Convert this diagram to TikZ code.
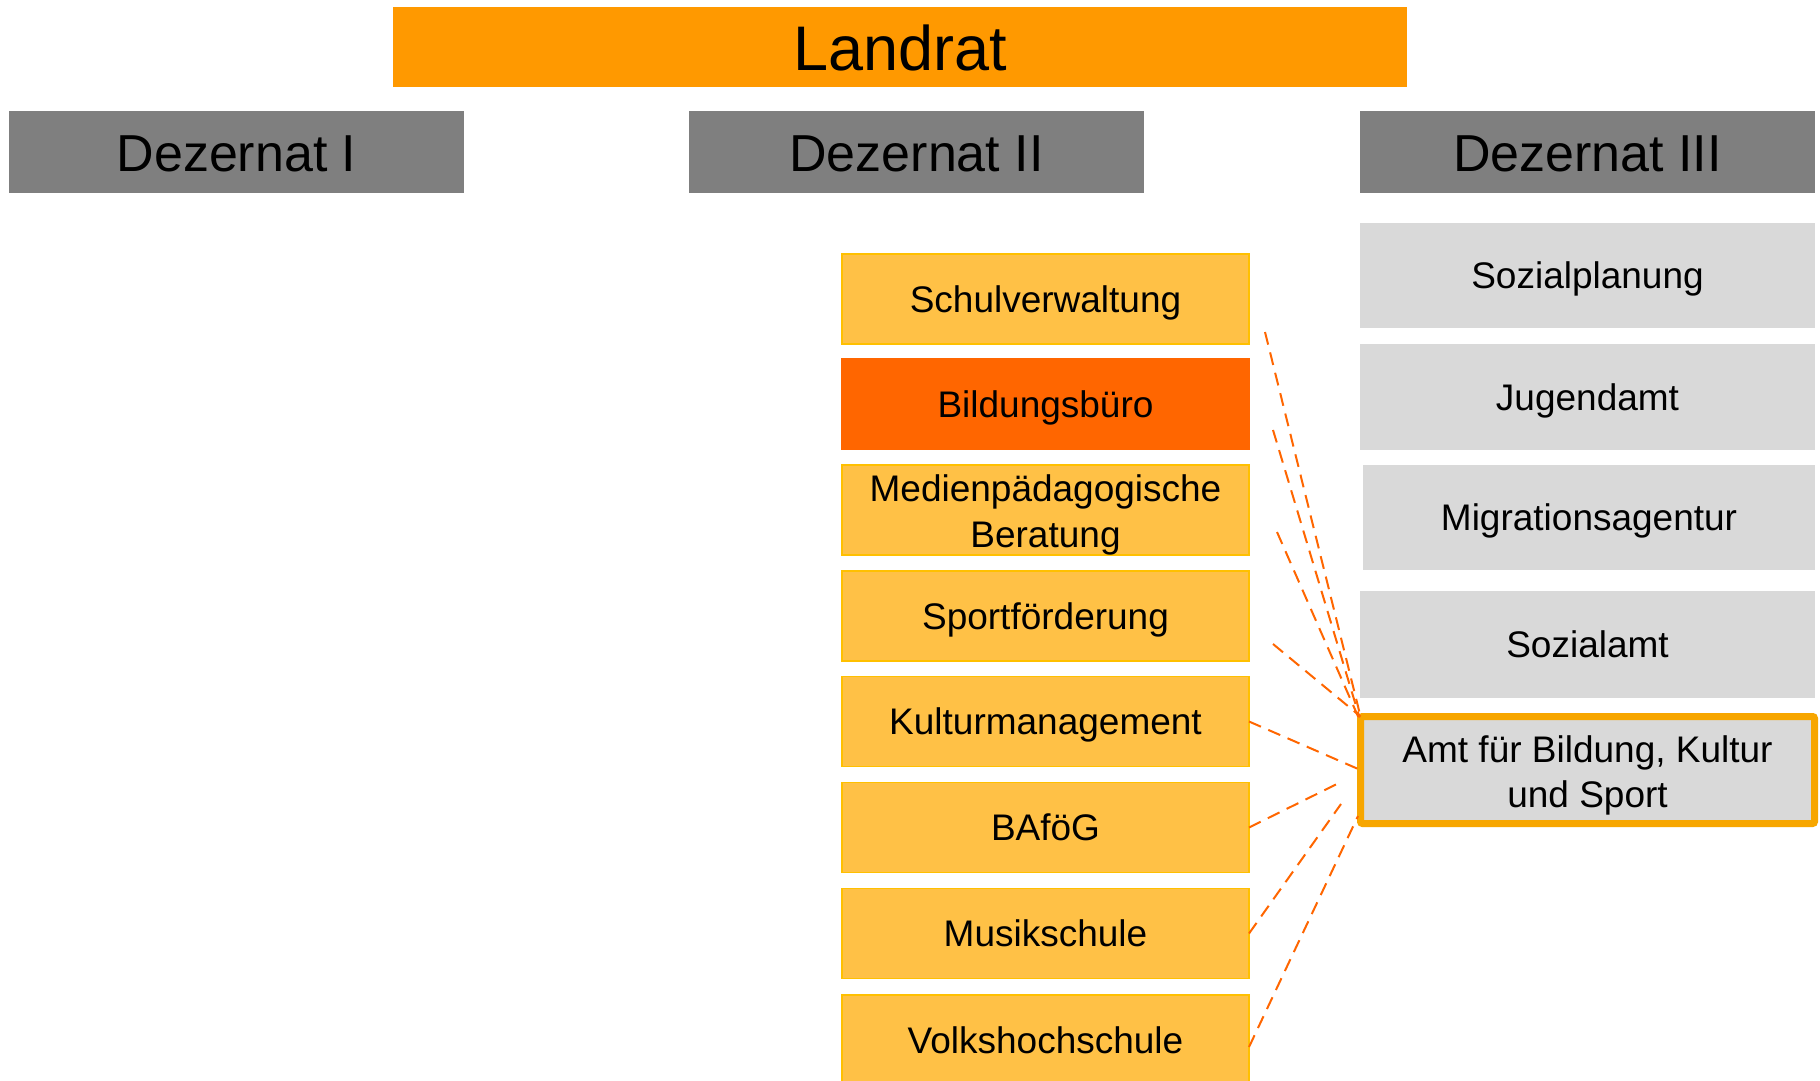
\documentclass[tikz,border=0pt]{standalone}
\usepackage{fontspec}
\setmainfont{Liberation Sans}
\definecolor{landratc}{HTML}{FF9900}
\definecolor{dezc}{HTML}{7F7F7F}
\definecolor{lorange}{HTML}{FFC146}
\definecolor{lorangeb}{HTML}{FFC000}
\definecolor{bildc}{HTML}{FF6600}
\definecolor{lgray}{HTML}{D9D9D9}
\definecolor{amtb}{HTML}{F7A600}
\definecolor{dashc}{HTML}{FF6600}
\begin{document}
\begin{tikzpicture}[x=1pt,y=-1pt,
  base/.style={inner sep=0pt, outer sep=0pt, align=center, text=black},
  landratbox/.style={base, fill=landratc, minimum width=1014pt, minimum height=80pt, font=\fontsize{63}{70}\selectfont, text height=46.5pt, text depth=0pt},
  dezbox/.style={base, fill=dezc, minimum width=455pt, minimum height=82pt, font=\fontsize{52}{60}\selectfont, text height=39pt, text depth=0pt},
  unitframe/.style={base, fill=lorange, draw=lorangeb, line width=1.5pt, minimum width=407pt, minimum height=90pt, font=\fontsize{37}{45.5}\selectfont},
  unitbox/.style={unitframe, text height=26.5pt, text depth=0pt},
  bildbox/.style={unitbox, fill=bildc, draw=bildc},
  grayframe/.style={base, fill=lgray, minimum width=455pt, font=\fontsize{37}{45.5}\selectfont},
  graybox/.style={grayframe, text height=26.5pt, text depth=0pt},
  amtbox/.style={grayframe, draw=amtb, line width=7pt, rounded corners=2pt, minimum width=454pt, minimum height=107pt},
  twoline/.style={base, font=\fontsize{37}{45.5}\selectfont},
  link/.style={draw=dashc, line width=2pt, dash pattern=on 13pt off 8pt}
]
\clip (0,0) rectangle (1820,1081);
\fill[white] (0,0) rectangle (1820,1081);

\node[landratbox] (landrat) at (900,47) {Landrat};
\node[dezbox] (dez1) at (236.5,152) {Dezernat I};
\node[dezbox] (dez2) at (916.5,152) {Dezernat II};
\node[dezbox] (dez3) at (1587.5,152) {Dezernat III};

\node[unitbox] (schul) at (1045.5,299) {Schulverwaltung};
\node[bildbox] (bild) at (1045.5,404) {Bildungsbüro};
\node[unitframe] (medien) at (1045.5,510) {};
\node[twoline] (medien-text) at ([yshift=-5pt]medien.center) {Medienpädagogische\\Beratung};
\node[unitbox] (sport) at (1045.5,616) {Sportförderung};
\node[unitbox] (kultur) at (1045.5,721.5) {Kulturmanagement};
\node[unitbox] (bafoeg) at (1045.5,827.5) {BAföG};
\node[unitbox] (musik) at (1045.5,933.5) {Musikschule};
\node[unitbox] (vhs) at (1045.5,1040) {Volkshochschule};

\node[graybox, minimum height=105pt] (sozplan) at (1587.5,275.5) {Sozialplanung};
\node[graybox, minimum height=106pt] (jugend) at (1587.5,397) {Jugendamt};
\node[graybox, minimum height=105pt, minimum width=452pt] (migra) at (1589,517.5) {Migrationsagentur};
\node[graybox, minimum height=107pt] (sozamt) at (1587.5,644.5) {Sozialamt};
\node[amtbox] (amt) at (1587.5,770) {};
\node[twoline] (amt-text) at ([yshift=-5.5pt]amt.center) {Amt für Bildung, Kultur\\und Sport};

\coordinate (s1) at (1265,332);
\coordinate (s2) at (1273,430);
\coordinate (s3) at (1277,532);
\coordinate (s4) at (1273,644);
\coordinate (e6) at (1341,782);
\coordinate (e7) at (1341,804);
\coordinate (e8) at (1358,816);

\draw[link] (s1) -- (amt.north west);
\draw[link] (s2) -- ([xshift=-1pt,yshift=-1pt]amt.north west);
\draw[link] (s3) -- ([xshift=-2pt,yshift=-1pt]amt.north west);
\draw[link] (s4) -- (amt.north west);
\draw[link] (kultur.east) -- (amt.west);
\draw[link] (bafoeg.east) -- (e6);
\draw[link] (musik.east) -- (e7);
\draw[link] ([yshift=-7pt]vhs.east) -- (e8);
\end{tikzpicture}
\end{document}
